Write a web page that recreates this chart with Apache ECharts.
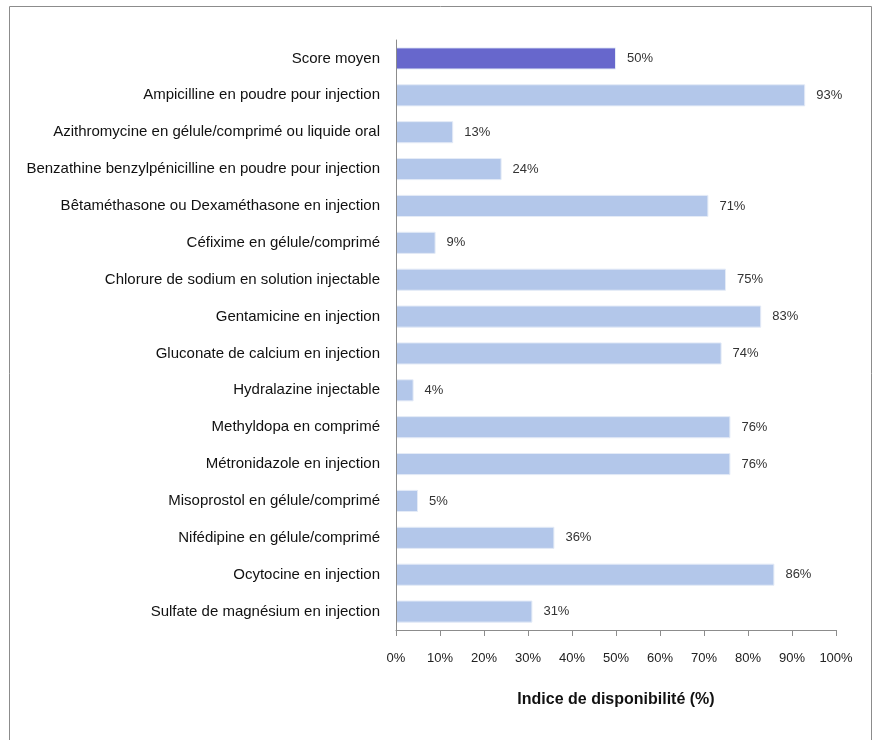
<!DOCTYPE html>
<html>
<head>
<meta charset="utf-8">
<script src="https://cdn.jsdelivr.net/npm/echarts@6/dist/echarts.min.js"></script>
<style>
html, body { margin: 0; padding: 0; background: #fff; }
#chart { width: 878px; height: 740px; }
</style>
</head>
<body>
<div id="chart"></div>
<script>
const categories = [
    'Score moyen',
    'Ampicilline en poudre pour injection',
    'Azithromycine en gélule/comprimé ou liquide oral',
    'Benzathine benzylpénicilline en poudre pour injection',
    'Bêtaméthasone ou Dexaméthasone en injection',
    'Céfixime en gélule/comprimé',
    'Chlorure de sodium en solution injectable',
    'Gentamicine en injection',
    'Gluconate de calcium en injection',
    'Hydralazine injectable',
    'Methyldopa en comprimé',
    'Métronidazole en injection',
    'Misoprostol en gélule/comprimé',
    'Nifédipine en gélule/comprimé',
    'Ocytocine en injection',
    'Sulfate de magnésium en injection'
];
const values = [50, 93, 13, 24, 71, 9, 75, 83, 74, 4, 76, 76, 5, 36, 86, 31];
const axisTicks = [0, 10, 20, 30, 40, 50, 60, 70, 80, 90, 100];

const font = '"Liberation Sans Narrow", "Arial Narrow", "Liberation Sans", sans-serif';

function init(){
    const element = document.getElementById('chart');
    const instance = echarts.init(element, null, { renderer: 'canvas' });
    let option = {
        animation: false,
        graphic: [{
            type: 'rect',
            shape: { x: 9.5, y: 6.5, width: 862, height: 760 },
            style: { fill: 'none', stroke: '#8c8c8c', lineWidth: 1 },
            silent: true
        }],
        grid: {
            left: 396, right: 42, top: 40, bottom: 110,
            containLabel: false,
            outerBoundsMode: 'none'
        },
        xAxis: {
            type: 'value',
            min: axisTicks[0],
            max: axisTicks[axisTicks.length - 1],
            interval: 10,
            name: 'Indice de disponibilité (%)',
            nameLocation: 'middle',
            nameGap: 62,
            nameTextStyle: { fontFamily: font, fontSize: 16, fontWeight: 'bold', color: '#111' },
            axisLine: { show: true, lineStyle: { color: '#8c8c8c' } },
            axisTick: { show: true, length: 6, lineStyle: { color: '#8c8c8c' } },
            axisLabel: { formatter: '{value}%', fontFamily: font, fontSize: 13, color: '#222', margin: 22 },
            splitLine: { show: false }
        },
        yAxis: {
            type: 'category',
            data: categories,
            inverse: true,
            z: 3,
            axisLine: { show: true, lineStyle: { color: '#8c8c8c' } },
            axisTick: { show: false },
            axisLabel: { fontFamily: font, fontSize: 15, color: '#111', margin: 16 }
        },
        series: [{
            type: 'bar',
            data: values.map((v, i) => ({
                value: v,
                itemStyle: { color: i === 0 ? '#6767cc' : '#b3c7ea' }
            })),
            barCategoryGap: '40%',
            itemStyle: { borderColor: '#e4ebf7', borderWidth: 1 },
            label: {
                show: true,
                position: 'right',
                distance: 11,
                formatter: '{c}%',
                fontFamily: font,
                fontSize: 13,
                color: '#333'
            }
        }]
    };

    instance && instance.setOption(option);

    window.onresize = function(){
        instance.resize();
    };
}
init();
</script>
</body>
</html>
